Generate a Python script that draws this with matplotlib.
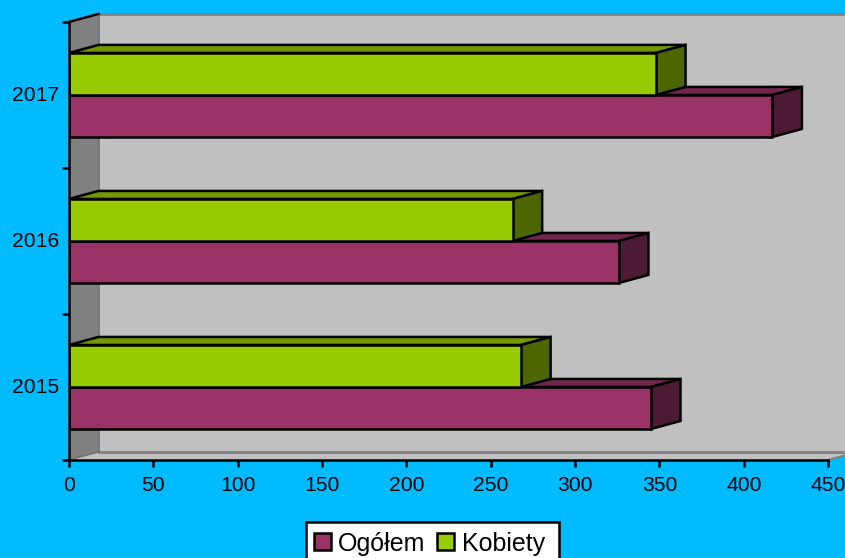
import matplotlib.pyplot as plt
from matplotlib.patches import Patch, Rectangle
from matplotlib.ticker import MultipleLocator

# Data
YEARS = ['2015', '2016', '2017']
OGOLEM = [345, 326, 417]
KOBIETY = [268, 263, 348]
LEGEND_LABELS = ['Ogółem', 'Kobiety']

# Constants
W, H = 845, 558
DPI = 100
BG = '#00BBFF'
LEFT, RIGHT, TOP, BOTTOM = 69, 828, 22, 460
X_MAX = 450
PX_X = (RIGHT - LEFT) / X_MAX
PX_Y = (BOTTOM - TOP) / len(YEARS)
DX = 29.5 / PX_X  # 3d depth, data units
DY = 8 / PX_Y
BAR_H = 42 / PX_Y
LABEL_NUDGE = 2 / PX_Y  # year labels sit a little above the bar join
EDGE = 1.8
FONT = 15.2

plt.rcParams['font.family'] = ['Liberation Sans', 'DejaVu Sans']

fig = plt.figure(figsize=((W + 0.1) / DPI, (H + 0.1) / DPI), dpi=DPI, facecolor=BG)
ax = fig.add_axes([LEFT / W, 1 - BOTTOM / H, (RIGHT - LEFT) / W, (BOTTOM - TOP) / H])
ax.set_xlim(0, X_MAX)
ax.set_ylim(0, len(YEARS))
ax.patch.set_visible(False)


def poly(xs, ys, color, edge='none', lw=0, z=1):
    ax.fill(xs, ys, facecolor=color, edgecolor=edge, linewidth=lw, zorder=z,
            clip_on=False, joinstyle='miter')


# Walls
n = len(YEARS)
far = X_MAX + 2 * DX
poly([DX, far, far, DX], [DY, DY, n + DY, n + DY], '#C0C0C0')
poly([0, X_MAX, X_MAX + DX, DX], [0, 0, DY, DY], '#C0C0C0')
poly([0, DX, DX, 0], [0, DY, n + DY, n], '#808080')
ax.plot([DX, far], [n + DY, n + DY], color='#808080', lw=2, zorder=1.5, clip_on=False)
ax.plot([DX, far], [DY, DY], color='#808080', lw=2, zorder=1.5, clip_on=False)
ax.plot([DX, DX], [DY, n + DY], color='#707070', lw=1.2, zorder=1.5, clip_on=False)
ax.plot([0, DX], [0, DY], color='#707070', lw=1, zorder=1.5, clip_on=False)
ax.plot([X_MAX, X_MAX + DX], [0, DY], color='#808080', lw=1.5, zorder=1.5, clip_on=False)
ax.plot([0, DX], [n, n + DY], color='black', lw=EDGE, zorder=1.6, clip_on=False)


def bar3d(val, y0, front, top, side, z):
    y1 = y0 + BAR_H
    ax.barh(y0, val, height=BAR_H, align='edge', color=front, edgecolor='black',
            linewidth=EDGE, zorder=z + 0.2)
    poly([0, val, val + DX, DX], [y1, y1, y1 + DY, y1 + DY], top, 'black', EDGE, z)
    poly([val, val + DX, val + DX, val], [y0, y0 + DY, y1 + DY, y1], side, 'black', EDGE, z + 0.1)


for i in range(n):
    c = i + 0.5
    bar3d(OGOLEM[i], c - BAR_H, '#993366', '#73264D', '#4D1A33', 2 + i)
    bar3d(KOBIETY[i], c, '#99CC00', '#739900', '#4D6600', 2.5 + i)

# Axes
for s in ['top', 'right']:
    ax.spines[s].set_visible(False)
for s in ['left', 'bottom']:
    ax.spines[s].set_linewidth(EDGE)
    ax.spines[s].set_zorder(10)
ax.xaxis.set_major_locator(MultipleLocator(50))
ax.set_yticks(range(n + 1))
ax.set_yticklabels([])
ax.set_yticks([i + 0.5 + LABEL_NUDGE for i in range(n)], labels=YEARS, minor=True)
ax.tick_params(axis='both', which='major', length=5, width=EDGE, labelsize=FONT, pad=5)
ax.tick_params(axis='x', which='major', pad=6.5)
ax.tick_params(axis='y', which='minor', length=0, labelsize=FONT, pad=7)
for t in ax.get_yticklabels(minor=True):
    t.set_verticalalignment('center_baseline')

# Legend box runs off the bottom of the figure like the original
fig.add_artist(Rectangle((306 / W, -0.02), 253 / W, 1 - 522 / H + 0.02, transform=fig.transFigure,
                         facecolor='white', edgecolor='black', linewidth=EDGE))
handles = [Patch(facecolor='#993366', edgecolor='black', linewidth=EDGE),
           Patch(facecolor='#99CC00', edgecolor='black', linewidth=EDGE)]
fig.legend(handles, LEGEND_LABELS, loc='upper left', ncol=2, frameon=False,
           bbox_to_anchor=(308 / W, 1 - 526 / H), fontsize=18, borderaxespad=0,
           handlelength=0.68, handleheight=0.68, handletextpad=0.31,
           columnspacing=0.47, borderpad=0.22)

fig.savefig('out.png', dpi=DPI, facecolor=BG)
